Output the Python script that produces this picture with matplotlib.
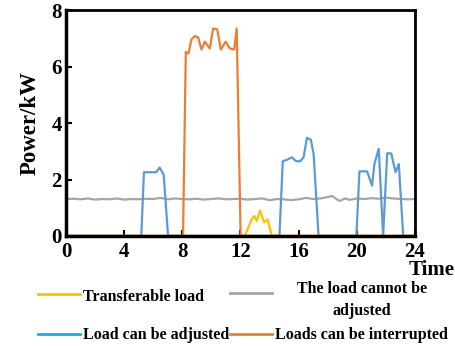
import matplotlib
matplotlib.use("Agg")
import matplotlib.pyplot as plt
from matplotlib.lines import Line2D

# ---- data ----
t_transfer = [0, 12.3, 12.77, 12.95, 13.12, 13.35, 13.62, 13.87, 14.15, 24]
p_transfer = [0, 0, 0.59, 0.71, 0.53, 0.91, 0.48, 0.59, 0, 0]

t_fixed = [0, 0.5, 1, 1.5, 2, 2.5, 3, 3.5, 4, 4.5, 5, 5.5, 6, 6.5, 7, 7.5, 8, 8.5, 9, 9.5,
           10, 10.5, 11, 11.5, 12, 12.5, 13, 13.5, 14, 14.5, 15, 15.5, 16, 16.5, 17, 17.5,
           18, 18.3, 18.8, 19.2, 19.5, 20, 20.5, 21, 21.5, 22, 22.5, 23, 23.5, 24]
p_fixed = [1.31, 1.32, 1.30, 1.33, 1.29, 1.31, 1.30, 1.33, 1.29, 1.31, 1.30, 1.32, 1.31, 1.35, 1.30, 1.33, 1.31, 1.30,
           1.32, 1.29, 1.31, 1.33, 1.30, 1.31, 1.32, 1.29, 1.31, 1.33, 1.27, 1.31, 1.30, 1.27, 1.30, 1.35, 1.31, 1.33,
           1.38, 1.42, 1.24, 1.33, 1.28, 1.33, 1.31, 1.34, 1.32, 1.36, 1.33, 1.31, 1.30, 1.31]

t_adjust = [0, 5.18, 5.36, 6.21, 6.44, 6.72, 7.02, 14.68, 14.91, 15.19, 15.53, 15.83, 16.11, 16.34,
            16.57, 16.84, 17.03, 17.37, 19.97, 20.18, 20.71, 21.05, 21.21, 21.51, 21.81, 22.09,
            22.37, 22.66, 22.89, 23.19, 24]
p_adjust = [0, 0, 2.26, 2.26, 2.43, 2.17, 0, 0, 2.65, 2.70, 2.79, 2.65, 2.65, 2.79,
            3.48, 3.41, 2.91, 0, 0, 2.29, 2.29, 1.78, 2.55, 3.09, 0, 2.93,
            2.93, 2.26, 2.55, 0, 0]

t_interrupt = [0, 8.05, 8.24, 8.42, 8.63, 8.86, 9.09, 9.32, 9.55, 9.89, 10.12, 10.40, 10.65,
               10.98, 11.27, 11.57, 11.74, 12.01, 24]
p_interrupt = [0, 0, 6.53, 6.47, 6.97, 7.09, 7.04, 6.61, 6.89, 6.65, 7.36, 7.33, 6.61,
               6.89, 6.65, 6.61, 7.36, 0, 0]

labels = ["Transferable load", "The load cannot be\nadjusted",
          "Load can be adjusted", "Loads can be interrupted"]
xticks = [0, 4, 8, 12, 16, 20, 24]
yticks = [0, 2, 4, 6, 8]

plt.rcParams['font.family'] = ['Liberation Serif', 'DejaVu Serif']
plt.rcParams['font.weight'] = 'bold'

W, H = 455, 346
fig = plt.figure(figsize=(W / 100, H / 100), dpi=100)
ax = fig.add_axes([0.145, 0.318, 0.767, 0.652])

c_y, c_g, c_b, c_o = '#FFC000', '#A5A5A5', '#5B9BD5', '#ED7D31'
ax.plot(t_fixed, p_fixed, color=c_g, lw=1.6)
ax.plot(t_adjust, p_adjust, color=c_b, lw=1.6)
ax.plot(t_interrupt, p_interrupt, color=c_o, lw=1.6)
ax.plot(t_transfer, p_transfer, color=c_y, lw=1.6)

ax.set_xlim(0, 24)
ax.set_ylim(0, 8)
ax.set_xticks(xticks)
ax.set_yticks(yticks)
ax.tick_params(direction='in', length=4, width=1.5, labelsize=15)
ax.tick_params(axis='x', pad=4)
ax.tick_params(axis='y', pad=3)
for lab in ax.get_xticklabels() + ax.get_yticklabels():
    lab.set_fontweight('bold')
for s in ax.spines.values():
    s.set_linewidth(2)
ax.spines['left'].set_linewidth(2.5)
ax.spines['bottom'].set_linewidth(2.5)
ax.set_ylabel('Power/kW', fontsize=16.5, fontweight='bold', labelpad=8)
fig.text(1.0, 1 - 270 / H, 'Time', fontsize=15, fontweight='bold', ha='right', va='center')

# ---- legend (manual, in figure pixels) ----
leg_cols = [c_y, c_g, '#1AAAE8', c_o]
handle_pos = [(38, 294), (230, 293), (38, 334), (230, 334)]
for col, (x0, y0) in zip(leg_cols, handle_pos):
    fig.add_artist(Line2D([x0 / W, (x0 + 42) / W], [1 - y0 / H, 1 - y0 / H],
                          transform=fig.transFigure, color=col, lw=2))
leg_fs = 11.5
fig.text(83 / W, 1 - 297 / H, labels[0], fontsize=leg_fs, fontweight='bold', ha='left', va='center')
fig.text(362 / W, 1 - 300 / H, labels[1], fontsize=leg_fs, fontweight='bold', ha='center', va='center',
         multialignment='center', linespacing=1.55)
fig.text(83 / W, 1 - 335 / H, labels[2], fontsize=leg_fs, fontweight='bold', ha='left', va='center')
fig.text(275 / W, 1 - 335 / H, labels[3], fontsize=leg_fs, fontweight='bold', ha='left', va='center')

fig.savefig('out.png', dpi=100)
